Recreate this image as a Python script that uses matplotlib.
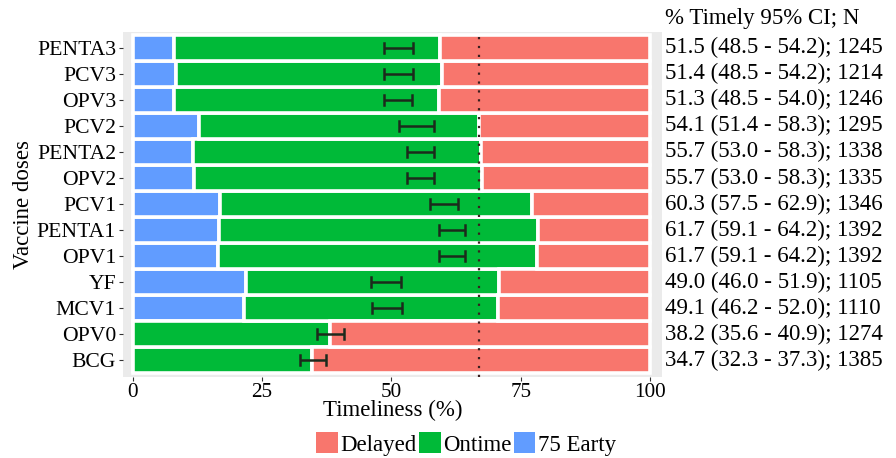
import matplotlib
matplotlib.use("Agg")
import matplotlib.pyplot as plt
import matplotlib.transforms as mtransforms
from matplotlib.patches import Patch

plt.rcParams['font.family'] = ['Liberation Serif', 'DejaVu Serif']

# Data (bottom to top)
doses = ["BCG", "OPV0", "MCV1", "YF", "OPV1", "PENTA1", "PCV1",
         "OPV2", "PENTA2", "PCV2", "OPV3", "PCV3", "PENTA3"]
early = [0.0, 0.0, 21.4, 21.8, 16.5, 16.7, 16.9, 11.8, 11.6, 12.8, 7.9, 8.4, 7.9]
ontime = [34.7, 38.2, 49.1, 49.0, 61.7, 61.7, 60.3, 55.7, 55.7, 54.1, 51.3, 51.4, 51.5]
ci_low = [32.3, 35.6, 46.2, 46.0, 59.1, 59.1, 57.5, 53.0, 53.0, 51.4, 48.5, 48.5, 48.5]
ci_high = [37.3, 40.9, 52.0, 51.9, 64.2, 64.2, 62.9, 58.3, 58.3, 58.3, 54.0, 54.2, 54.2]
n_obs = [1385, 1274, 1110, 1105, 1392, 1392, 1346, 1335, 1338, 1295, 1246, 1214, 1245]
ref_line = 67.0
legend_labels = ["Delayed", "Ontime", "75 Earty"]

c_delayed = "#F8766D"
c_ontime = "#00BA38"
c_early = "#619CFF"

FS = 16.5

fig = plt.figure(figsize=(8.96, 4.58), dpi=100)
ax = fig.add_axes([123/896, 1-377/458, (662-123)/896, (377-32)/458])
ax.set_facecolor("#EBEBEB")

ys = list(range(len(doses)))
delayed = [100 - e - o for e, o in zip(early, ontime)]
ontime_end = [e + o for e, o in zip(early, ontime)]

kw = dict(height=1.0, edgecolor="white", linewidth=2.6, zorder=2)
ax.barh(ys, early, left=0, color=c_early, **kw)
ax.barh(ys, ontime, left=early, color=c_ontime, **kw)
ax.barh(ys, delayed, left=ontime_end, color=c_delayed, **kw)

# error bars (CI of timely %)
ec = "#1c2a1c"
for y, lo, hi in zip(ys, ci_low, ci_high):
    ax.plot([lo, hi], [y, y], color=ec, lw=1.8, zorder=4, solid_capstyle="butt")
    ax.plot([lo, lo], [y - 0.19, y + 0.19], color=ec, lw=1.8, zorder=4)
    ax.plot([hi, hi], [y - 0.19, y + 0.19], color=ec, lw=1.8, zorder=4)

ax.axvline(ref_line, color="#3a1f1f", linestyle=(0, (1, 3)), lw=1.6, zorder=5)

ax.set_xlim(-1.9, 102.3)
ax.set_ylim(-0.65, 12.61)
ax.set_xticks([0, 25, 50, 75, 100])
ax.set_xticklabels(["0", "25", "50", "75", "100"])
ax.set_yticks(ys)
ax.set_yticklabels(doses)
ax.tick_params(axis="both", colors="#333333", labelcolor="black",
               length=3, width=0.8)
ax.tick_params(axis="y", labelsize=15.6, pad=2)
ax.tick_params(axis="x", labelsize=15.2, pad=1)
for s in ax.spines.values():
    s.set_visible(False)

ax.set_xlabel("Timeliness (%)", fontsize=FS, labelpad=-1)
ax.set_ylabel("Vaccine doses", fontsize=FS, labelpad=2)

# right-hand annotation column
trans = mtransforms.blended_transform_factory(ax.transAxes, ax.transData)
for y, t, lo, hi, n in zip(ys, ontime, ci_low, ci_high, n_obs):
    ax.text(1.006, y, f"{t:.1f} ({lo:.1f} - {hi:.1f}); {n}", transform=trans,
            ha="left", va="center", fontsize=FS, clip_on=False)
ax.text(1.006, 13.12, "% Timely 95% CI; N", transform=trans,
        ha="left", va="center", fontsize=FS, clip_on=False)

handles = [Patch(facecolor=c_delayed), Patch(facecolor=c_ontime), Patch(facecolor=c_early)]
fig.legend(handles, legend_labels, loc="center", ncol=3,
           bbox_to_anchor=(466/896, 1-444/458), frameon=False, fontsize=FS,
           handlelength=0.95, handleheight=1.0, handletextpad=0.1,
           columnspacing=0.1, borderpad=0)

fig.savefig("out.png", dpi=100)
